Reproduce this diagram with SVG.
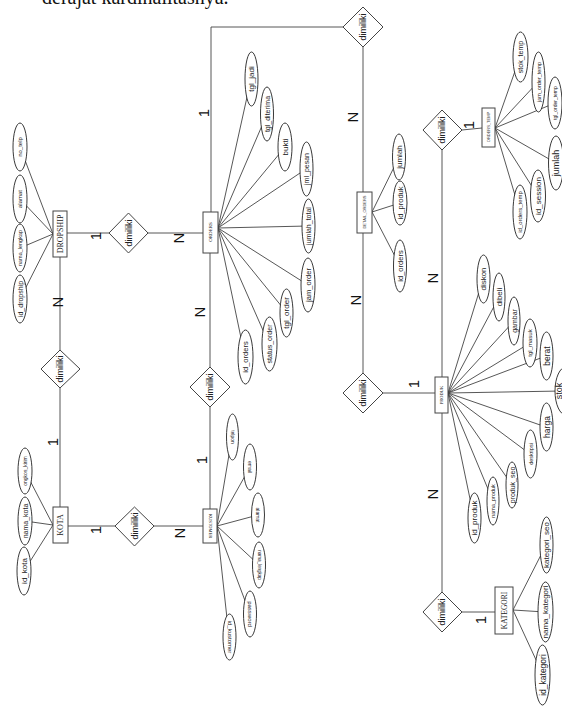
<svg xmlns="http://www.w3.org/2000/svg" width="562" height="707" viewBox="0 0 562 707">
<style>
.ln{stroke:#444;stroke-width:0.9;fill:none}
.at{fill:#fff;stroke:#222;stroke-width:0.9}
.en{fill:#fff;stroke:#444;stroke-width:1}
.dm{fill:#fff;stroke:#444;stroke-width:1}
.t{font-family:"Liberation Sans",Arial,sans-serif;fill:#222;text-anchor:middle;dominant-baseline:central}
.ts{font-family:"Liberation Serif","Times New Roman",serif;fill:#222;text-anchor:middle;dominant-baseline:central}
.tt{font-family:"Liberation Sans",Arial,sans-serif;fill:#444;text-anchor:middle;dominant-baseline:central}
.c{font-family:"Liberation Sans",Arial,sans-serif;font-size:15px;fill:#111;text-anchor:middle;dominant-baseline:central}
</style>
<rect width="562" height="707" fill="#fff"/>
<text x="42" y="4" font-family="Liberation Serif,serif" font-size="20" fill="#111">derajat kardinalitasnya.</text>
<g id="connectors">
<line class="ln" x1="67" y1="233" x2="109" y2="233"/>
<line class="ln" x1="148" y1="233" x2="203" y2="233"/>
<line class="ln" x1="60" y1="257" x2="60" y2="350"/>
<line class="ln" x1="60" y1="388" x2="60" y2="507"/>
<line class="ln" x1="68" y1="526" x2="115" y2="526"/>
<line class="ln" x1="154" y1="526" x2="203" y2="526"/>
<line class="ln" x1="210" y1="509" x2="210" y2="407"/>
<line class="ln" x1="210" y1="367" x2="210" y2="253"/>
<polyline class="ln" points="211,212 211,27 343,27"/>
<line class="ln" x1="363" y1="47" x2="363" y2="192"/>
<line class="ln" x1="363" y1="233" x2="363" y2="373"/>
<line class="ln" x1="383" y1="393" x2="435" y2="393"/>
<line class="ln" x1="442" y1="377" x2="442" y2="150"/>
<line class="ln" x1="462" y1="130" x2="482" y2="128"/>
<line class="ln" x1="442" y1="413" x2="442" y2="592"/>
<line class="ln" x1="462" y1="612" x2="495" y2="612"/>
<g class="ln">
<line x1="53" y1="234" x2="20" y2="147"/><line x1="53" y1="234" x2="20" y2="199"/><line x1="53" y1="234" x2="20" y2="248"/><line x1="53" y1="234" x2="20" y2="299"/>
<line x1="53" y1="525" x2="25" y2="471"/><line x1="53" y1="525" x2="25" y2="521"/><line x1="53" y1="525" x2="24" y2="571"/>
<line x1="217" y1="526" x2="232" y2="437"/><line x1="217" y1="526" x2="250" y2="467"/><line x1="217" y1="526" x2="258" y2="515"/><line x1="217" y1="526" x2="259" y2="565"/><line x1="217" y1="526" x2="250" y2="614"/><line x1="217" y1="526" x2="229" y2="637"/>
<line x1="218" y1="228" x2="251" y2="79"/><line x1="218" y1="228" x2="267" y2="114"/><line x1="218" y1="228" x2="285" y2="147"/><line x1="218" y1="228" x2="306" y2="169"/><line x1="218" y1="228" x2="308" y2="226"/><line x1="218" y1="228" x2="308" y2="285"/><line x1="218" y1="228" x2="287" y2="313"/><line x1="218" y1="228" x2="269" y2="344"/><line x1="218" y1="228" x2="245" y2="357"/>
<line x1="372" y1="212" x2="399" y2="157"/><line x1="372" y1="212" x2="400" y2="203"/><line x1="372" y1="212" x2="400" y2="266"/>
<line x1="495" y1="128" x2="520" y2="57"/><line x1="495" y1="128" x2="538" y2="82"/><line x1="495" y1="128" x2="555" y2="103"/><line x1="495" y1="128" x2="556" y2="163"/><line x1="495" y1="128" x2="538" y2="196"/><line x1="495" y1="128" x2="520" y2="212"/>
<line x1="448" y1="393" x2="483" y2="279"/><line x1="448" y1="393" x2="499" y2="297"/><line x1="448" y1="393" x2="514" y2="321"/><line x1="448" y1="393" x2="530" y2="343"/><line x1="448" y1="393" x2="546" y2="356"/><line x1="448" y1="393" x2="562" y2="391"/><line x1="448" y1="393" x2="546" y2="427"/><line x1="448" y1="393" x2="530" y2="454"/><line x1="448" y1="393" x2="512" y2="485"/><line x1="448" y1="393" x2="493" y2="501"/><line x1="448" y1="393" x2="474" y2="518"/>
<line x1="513" y1="610" x2="546" y2="545"/><line x1="513" y1="610" x2="545" y2="612"/><line x1="513" y1="610" x2="543" y2="675"/>
</g>
</g>
<g id="cardinality">
<text class="c" transform="translate(95,236) rotate(-90)">1</text>
<text class="c" transform="translate(178,238) rotate(-90)">N</text>
<text class="c" transform="translate(57,302) rotate(-90)">N</text>
<text class="c" transform="translate(52,442) rotate(-90)">1</text>
<text class="c" transform="translate(95,530) rotate(-90)">1</text>
<text class="c" transform="translate(179,533) rotate(-90)">N</text>
<text class="c" transform="translate(199,312) rotate(-90)">N</text>
<text class="c" transform="translate(201,460) rotate(-90)">1</text>
<text class="c" transform="translate(203,113) rotate(-90)">1</text>
<text class="c" transform="translate(352,117) rotate(-90)">N</text>
<text class="c" transform="translate(355,300) rotate(-90)">N</text>
<text class="c" transform="translate(413,384) rotate(-90)">1</text>
<text class="c" transform="translate(432,278) rotate(-90)">N</text>
<text class="c" transform="translate(468,125) rotate(-90)">1</text>
<text class="c" transform="translate(432,494) rotate(-90)">N</text>
<text class="c" transform="translate(480,620) rotate(-90)">1</text>
</g>
<g id="rel-dropship-orders"><polygon class="dm" points="109,233 128.5,213 148,233 128.5,253"/><text class="t" style="font-size:9px" transform="translate(128.5,233) rotate(-90)">dimiliki</text></g>
<g id="rel-dropship-kota"><polygon class="dm" points="41,369 60,350 80,369 60,388"/><text class="t" style="font-size:9px" transform="translate(60,369) rotate(-90)">dimiliki</text></g>
<g id="rel-kota-kustomer"><polygon class="dm" points="115,526 134.5,507 154,526 134.5,546"/><text class="t" style="font-size:9px" transform="translate(134.5,526) rotate(-90)">dimiliki</text></g>
<g id="rel-kustomer-orders"><polygon class="dm" points="190,387 210,367 230,387 210,407"/><text class="t" style="font-size:9px" transform="translate(210,387) rotate(-90)">dimiliki</text></g>
<g id="rel-orders-detail"><polygon class="dm" points="343,27 363,7 383,27 363,47"/><text class="t" style="font-size:9px" transform="translate(363,27) rotate(-90)">dimiliki</text></g>
<g id="rel-detail-produk"><polygon class="dm" points="343,393 363,373 383,393 363,413"/><text class="t" style="font-size:9px" transform="translate(363,393) rotate(-90)">dimiliki</text></g>
<g id="rel-produk-temp"><polygon class="dm" points="423,130 442,110 462,130 442,150"/><text class="t" style="font-size:9px" transform="translate(442,130) rotate(-90)">dimiliki</text></g>
<g id="rel-produk-kategori"><polygon class="dm" points="423,612 442,592 462,612 442,632"/><text class="t" style="font-size:9px" transform="translate(442,612) rotate(-90)">dimiliki</text></g>
<g id="DROPSHIP"><rect class="en" x="53" y="211" width="14" height="46"/><text class="ts" style="font-size:8px" transform="translate(60,234) rotate(-90)">DROPSHIP</text>
<ellipse class="at" cx="20" cy="147" rx="7" ry="24"/><text class="t" style="font-size:6px" transform="translate(20,147) rotate(-90)">no_telp</text>
<ellipse class="at" cx="20" cy="199" rx="7" ry="24"/><text class="t" style="font-size:6px" transform="translate(20,199) rotate(-90)">alamat</text>
<ellipse class="at" cx="20" cy="248" rx="7" ry="24"/><text class="t" style="font-size:5.5px" transform="translate(20,248) rotate(-90)">nama_lengkap</text>
<ellipse class="at" cx="20" cy="299" rx="7" ry="24"/><text class="t" style="font-size:7px" transform="translate(20,299) rotate(-90)">id_dropship</text></g>
<g id="KOTA"><rect class="en" x="53" y="507" width="15" height="36"/><text class="ts" style="font-size:8px" transform="translate(60.5,525) rotate(-90)">KOTA</text>
<ellipse class="at" cx="25" cy="471" rx="7" ry="23"/><text class="t" style="font-size:5px" transform="translate(25,471) rotate(-90)">ongkos_kirim</text>
<ellipse class="at" cx="25" cy="521" rx="7" ry="24"/><text class="t" style="font-size:7px" transform="translate(25,521) rotate(-90)">nama_kota</text>
<ellipse class="at" cx="24" cy="571" rx="7" ry="24"/><text class="t" style="font-size:8px" transform="translate(24,571) rotate(-90)">id_kota</text></g>
<g id="KUSTOMER"><rect class="en" x="203" y="509" width="14" height="34"/><text class="ts" style="font-size:4.5px" transform="translate(210,526) rotate(90)">KUSTOMER</text>
<ellipse class="at" cx="232.5" cy="437" rx="6" ry="23"/><text class="t" style="font-size:5px" transform="translate(232.5,437) rotate(90)">telpon</text>
<ellipse class="at" cx="250" cy="467" rx="6.5" ry="23"/><text class="t" style="font-size:5px" transform="translate(250,467) rotate(90)">email</text>
<ellipse class="at" cx="258" cy="515" rx="6.5" ry="22"/><text class="t" style="font-size:5px" transform="translate(258,515) rotate(90)">alamat</text>
<ellipse class="at" cx="259" cy="565" rx="6.5" ry="23"/><text class="t" style="font-size:4.5px" transform="translate(259,565) rotate(90)">nama_lengkap</text>
<ellipse class="at" cx="250" cy="614" rx="6.5" ry="23"/><text class="t" style="font-size:6px" transform="translate(250,614) rotate(90)">password</text>
<ellipse class="at" cx="229.5" cy="637" rx="6.5" ry="23"/><text class="t" style="font-size:6px" transform="translate(229.5,637) rotate(90)">id_kustomer</text></g>
<g id="ORDERS"><rect class="en" x="203" y="212" width="15" height="41"/><text class="ts" style="font-size:5px" transform="translate(210.5,232) rotate(-90)">ORDERS</text>
<ellipse class="at" cx="251.5" cy="79" rx="6.5" ry="27"/><text class="t" style="font-size:8px" transform="translate(251.5,79) rotate(-90)">tgl_jadi</text>
<ellipse class="at" cx="267" cy="114" rx="6.5" ry="27"/><text class="t" style="font-size:7px" transform="translate(267,114) rotate(-90)">tgl_diterima</text>
<ellipse class="at" cx="285" cy="147" rx="7" ry="24"/><text class="t" style="font-size:8px" transform="translate(285,147) rotate(-90)">bukti</text>
<ellipse class="at" cx="306.5" cy="169" rx="6.5" ry="27"/><text class="t" style="font-size:7px" transform="translate(306.5,169) rotate(-90)">jml_pesan</text>
<ellipse class="at" cx="308.5" cy="226" rx="6.5" ry="27"/><text class="t" style="font-size:7px" transform="translate(308.5,226) rotate(-90)">jumlah_total</text>
<ellipse class="at" cx="308" cy="285" rx="7" ry="27"/><text class="t" style="font-size:7.5px" transform="translate(308,285) rotate(-90)">jam_order</text>
<ellipse class="at" cx="286.5" cy="313" rx="6.5" ry="24"/><text class="t" style="font-size:8px" transform="translate(286.5,313) rotate(-90)">tgl_order</text>
<ellipse class="at" cx="269.5" cy="344" rx="7.5" ry="27"/><text class="t" style="font-size:7px" transform="translate(269.5,344) rotate(-90)">status_order</text>
<ellipse class="at" cx="245.5" cy="357" rx="7.5" ry="27"/><text class="t" style="font-size:7.5px" transform="translate(245.5,357) rotate(-90)">id_orders</text></g>
<g id="DETAIL_ORDERS"><rect class="en" x="357" y="192" width="15" height="41"/><text class="tt" style="font-size:4px" transform="translate(364.5,212) rotate(-90)">DETAIL_ORDERS</text>
<ellipse class="at" cx="399" cy="157" rx="6.5" ry="23"/><text class="t" style="font-size:8px" transform="translate(399,157) rotate(-90)">jumlah</text>
<ellipse class="at" cx="400" cy="203" rx="7" ry="22"/><text class="t" style="font-size:7.5px" transform="translate(400,203) rotate(-90)">id_produk</text>
<ellipse class="at" cx="400" cy="266" rx="6.5" ry="26"/><text class="t" style="font-size:7.5px" transform="translate(400,266) rotate(-90)">id_orders</text></g>
<g id="ORDERS_TEMP"><rect class="en" x="482" y="108" width="13" height="39"/><text class="tt" style="font-size:4px" transform="translate(488.5,127) rotate(-90)">ORDERS_TEMP</text>
<ellipse class="at" cx="520.5" cy="57" rx="7.5" ry="25"/><text class="t" style="font-size:7px" transform="translate(520.5,57) rotate(-90)">stok_temp</text>
<ellipse class="at" cx="538.5" cy="82" rx="6.5" ry="30"/><text class="t" style="font-size:5.5px" transform="translate(538.5,82) rotate(-90)">jam_order_temp</text>
<ellipse class="at" cx="555" cy="103" rx="7" ry="26"/><text class="t" style="font-size:5px" transform="translate(555,103) rotate(-90)">tgl_order_temp</text>
<ellipse class="at" cx="556" cy="163" rx="7.5" ry="27"/><text class="t" style="font-size:9px" transform="translate(556,163) rotate(-90)">jumlah</text>
<ellipse class="at" cx="538" cy="196" rx="7.5" ry="26"/><text class="t" style="font-size:8px" transform="translate(538,196) rotate(-90)">id_session</text>
<ellipse class="at" cx="520" cy="212" rx="7" ry="27"/><text class="t" style="font-size:6px" transform="translate(520,212) rotate(-90)">id_orders_temp</text></g>
<g id="PRODUK"><rect class="en" x="435" y="377" width="13" height="36"/><text class="ts" style="font-size:4.5px" transform="translate(441.5,395) rotate(-90)">PRODUK</text>
<ellipse class="at" cx="483.5" cy="279" rx="6.5" ry="24"/><text class="t" style="font-size:8px" transform="translate(483.5,279) rotate(-90)">diskon</text>
<ellipse class="at" cx="499" cy="297" rx="6" ry="24"/><text class="t" style="font-size:8px" transform="translate(499,297) rotate(-90)">dibeli</text>
<ellipse class="at" cx="514" cy="321" rx="6" ry="24"/><text class="t" style="font-size:7px" transform="translate(514,321) rotate(-90)">gambar</text>
<ellipse class="at" cx="530" cy="343" rx="7" ry="24"/><text class="t" style="font-size:6px" transform="translate(530,343) rotate(-90)">tgl_masuk</text>
<ellipse class="at" cx="546.5" cy="356" rx="6.5" ry="24"/><text class="t" style="font-size:8.5px" transform="translate(546.5,356) rotate(-90)">berat</text>
<ellipse class="at" cx="566" cy="391" rx="11" ry="24"/><text class="t" style="font-size:9px" transform="translate(559,391) rotate(-90)">stok</text>
<ellipse class="at" cx="546.5" cy="427" rx="6.5" ry="24"/><text class="t" style="font-size:8.5px" transform="translate(546.5,427) rotate(-90)">harga</text>
<ellipse class="at" cx="530.5" cy="454" rx="6.5" ry="24"/><text class="t" style="font-size:5.5px" transform="translate(530.5,454) rotate(-90)">deskripsi</text>
<ellipse class="at" cx="512" cy="485" rx="6" ry="23"/><text class="t" style="font-size:7px" transform="translate(512,485) rotate(-90)">produk_seo</text>
<ellipse class="at" cx="493" cy="501" rx="6" ry="24"/><text class="t" style="font-size:5.5px" transform="translate(493,501) rotate(-90)">nama_produk</text>
<ellipse class="at" cx="474.5" cy="518" rx="6.5" ry="25"/><text class="t" style="font-size:8px" transform="translate(474.5,518) rotate(-90)">id_produk</text></g>
<g id="KATEGORI"><rect class="en" x="495" y="587" width="18" height="47"/><text class="ts" style="font-size:7.5px" transform="translate(504,610.5) rotate(-90)">KATEGORI</text>
<ellipse class="at" cx="546.5" cy="545" rx="6.5" ry="28"/><text class="t" style="font-size:8px" transform="translate(546.5,545) rotate(-90)">kategori_seo</text>
<ellipse class="at" cx="545.5" cy="612" rx="7.5" ry="30"/><text class="t" style="font-size:8px" transform="translate(545.5,612) rotate(-90)">nama_kategori</text>
<ellipse class="at" cx="542.5" cy="675" rx="7.5" ry="30"/><text class="t" style="font-size:8.5px" transform="translate(542.5,675) rotate(-90)">id_kategori</text></g>
</svg>
